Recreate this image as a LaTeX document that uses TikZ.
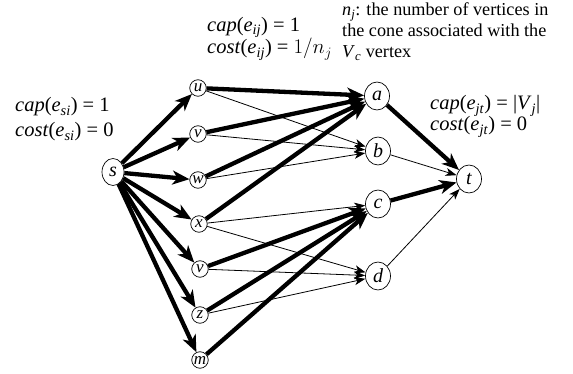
\documentclass[tikz,border=0pt]{standalone}
\usepackage{fontspec}
\setmainfont{Liberation Serif}
\usetikzlibrary{arrows.meta,shapes.geometric}
\begin{document}
\begin{tikzpicture}[x=1pt,y=-1pt,
  small/.style={circle,draw,line width=0.7pt,inner sep=0pt,minimum size=16.5pt,font=\fontsize{17}{17}\selectfont\itshape},
  big/.style={ellipse,draw,line width=0.7pt,inner sep=0pt,minimum width=25pt,minimum height=28pt,font=\fontsize{20}{20}\selectfont\itshape},
  heavy/.style={line width=4.3pt,-{Stealth[length=17pt,width=14pt,inset=5pt]}},
  light/.style={line width=0.8pt,-{Stealth[length=11pt,width=8pt,inset=3pt]}},
  note/.style={align=left,inner sep=0pt,anchor=base west}]
\useasboundingbox (0,0) rectangle (573,374);
\node[big,minimum width=22pt,minimum height=27pt] (s) at (113,172) {\raisebox{-1pt}{s}};
\node[small] (u) at (198,88) {u};
\node[small] (v) at (198,134) {\raisebox{-4pt}{v}};
\node[small] (w) at (198,180) {\raisebox{-4pt}{w}};
\node[small] (x) at (199,224) {\raisebox{-4pt}{x}};
\node[small] (y) at (200,269) {\raisebox{-4pt}{v}};
\node[small] (z) at (200,315) {\raisebox{-4pt}{z}};
\node[small] (m) at (200,360) {\raisebox{-3pt}{m}};
\node[big] (a) at (377,96) {a};
\node[big] (b) at (378,151) {b};
\node[big] (c) at (378,204) {c};
\node[big] (d) at (378,276) {d};
\node[big] (t) at (469,179) {t};
\foreach \n in {u,v,w,x,y,z,m} \draw[heavy] (s) -- (\n);
\draw[heavy] (u) -- (a);
\draw[heavy] (v) -- (a);
\draw[heavy] (w) -- (a);
\draw[heavy] (x) -- (a);
\draw[light] (u) -- (b);
\draw[light] (v) -- (b);
\draw[light] (w) -- (b);
\draw[light] (x) -- (c);
\draw[light] (x) -- (d);
\draw[heavy] (y) -- (c);
\draw[light] (y) -- (d);
\draw[heavy] (z) -- (c);
\draw[light] (z) -- (d);
\draw[heavy] (m) -- (c);
\draw[heavy] (a) -- (t);
\draw[light] (b) -- (t);
\draw[heavy] (c) -- (t);
\draw[light] (d) -- (t);
\node[note,font=\fontsize{20.5}{25}\selectfont] (n1) at (15,137)
  {\textit{cap}(\textit{e}\textsubscript{\textit{si}}) = 1\\\textit{cost}(\textit{e}\textsubscript{\textit{si}}) = 0};
\node[note,font=\fontsize{20.5}{21.5}\selectfont] (n2) at (207,54)
  {\textit{cap}(\textit{e}\textsubscript{\textit{ij}}) = 1\\\textit{cost}(\textit{e}\textsubscript{\textit{ij}}) = $1/n_j$};
\node[note,font=\fontsize{18.2}{21}\selectfont] (n3) at (342,58)
  {\textit{n}\textsubscript{\textit{j}}: the number of vertices in\\the cone associated with the\\\textit{V}\textsubscript{\textit{c}} vertex};
\node[note,font=\fontsize{20.5}{21}\selectfont] (n4) at (430,131)
  {\textit{cap}(\textit{e}\textsubscript{\textit{jt}}) = |\textit{V}\textsubscript{\textit{j}}|\\\textit{cost}(\textit{e}\textsubscript{\textit{jt}}) = 0};
\end{tikzpicture}
\end{document}
